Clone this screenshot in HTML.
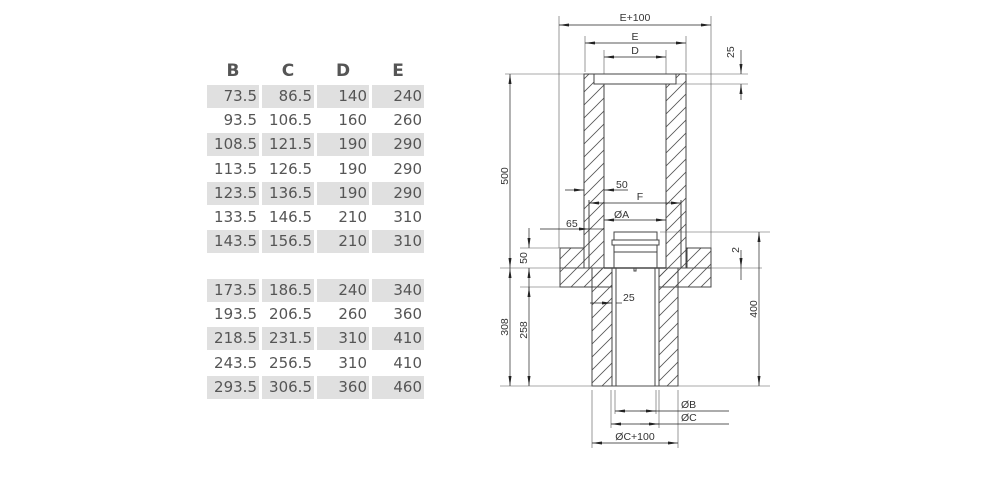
<!DOCTYPE html>
<html><head><meta charset="utf-8"><style>
body{margin:0;background:#fff;width:1000px;height:500px;overflow:hidden;position:relative;font-family:"DejaVu Sans","Liberation Sans",sans-serif}
.h{position:absolute;top:61px;font-weight:bold;font-size:17px;color:#555;width:52px;text-align:center}
.c{position:absolute;height:23px;width:52px;text-align:right;font-size:15px;color:#555;line-height:23px;box-sizing:border-box;padding-right:2px}
.s{background:#e0e0e0}
svg{position:absolute;left:0;top:0}
</style></head><body>
<div id="tbl"></div>
<script>
var rows=[[97,1,"73.5","86.5","140","240"],[121,0,"93.5","106.5","160","260"],[145,1,"108.5","121.5","190","290"],[170,0,"113.5","126.5","190","290"],[194,1,"123.5","136.5","190","290"],[218,0,"133.5","146.5","210","310"],[242,1,"143.5","156.5","210","310"],[291,1,"173.5","186.5","240","340"],[315,0,"193.5","206.5","260","360"],[339,1,"218.5","231.5","310","410"],[364,0,"243.5","256.5","310","410"],[388,1,"293.5","306.5","360","460"]];
var xs=[207,262,317,372],h="";
["B","C","D","E"].forEach(function(l,i){h+='<div class="h" style="left:'+xs[i]+'px">'+l+'</div>';});
rows.forEach(function(r){for(var i=0;i<4;i++)h+='<div class="c'+(r[1]?' s':'')+'" style="left:'+xs[i]+'px;top:'+(r[0]-12)+'px">'+r[i+2]+'</div>';});
document.getElementById('tbl').innerHTML=h;
</script>
<svg width="1000" height="500" viewBox="0 0 1000 500" font-family="Liberation Sans,sans-serif" font-size="10.5" fill="#333">
<defs>
<pattern id="hx" width="13" height="13" patternUnits="userSpaceOnUse"><path d="M-1,14L14,-1M-1,1L1,-1M12,14L14,12" stroke="#555" stroke-width="0.8"/></pattern>
<marker id="a" markerWidth="10" markerHeight="6" refX="10" refY="3" orient="auto-start-reverse" markerUnits="userSpaceOnUse"><path d="M0,1.5L10,3L0,4.5z" fill="#222"/></marker>
</defs>
<g stroke="#444" stroke-width="1" fill="none">
<rect x="584" y="74" width="20" height="194" fill="url(#hx)"/>
<rect x="666" y="74" width="20" height="194" fill="url(#hx)"/>
<rect x="594" y="74" width="82" height="10" fill="#fff"/>
<rect x="560" y="248" width="24" height="20" fill="url(#hx)"/>
<rect x="687" y="248" width="24" height="20" fill="url(#hx)"/>
<rect x="560" y="268" width="151" height="19" fill="url(#hx)"/>
<line x1="589" y1="200" x2="589" y2="268"/><line x1="681" y1="200" x2="681" y2="268"/>
<rect x="592" y="268" width="86" height="118" fill="url(#hx)"/>
<rect x="612" y="268" width="47" height="118" fill="#fff"/>
<line x1="616" y1="268" x2="616" y2="386"/><line x1="655" y1="268" x2="655" y2="386"/>
<rect x="614" y="232" width="43" height="8" fill="#fff"/>
<rect x="612" y="240" width="47" height="5" fill="#fff"/>
<rect x="614" y="245" width="43" height="23" fill="#fff"/>
<line x1="614" y1="252" x2="657" y2="252"/>
<line x1="604" y1="268" x2="666" y2="268" stroke-width="1.6"/>
<rect x="634" y="268" width="2" height="3"/>
</g>
<g stroke="#555" stroke-width="0.6" fill="none">
<line x1="559" y1="16" x2="559" y2="248"/><line x1="711" y1="16" x2="711" y2="248"/>
<line x1="585" y1="36" x2="585" y2="72"/><line x1="686" y1="36" x2="686" y2="72"/>
<line x1="604" y1="50" x2="604" y2="74"/><line x1="666" y1="50" x2="666" y2="74"/>
<line x1="505" y1="74" x2="584" y2="74"/><line x1="686" y1="74" x2="748" y2="74"/>
<line x1="676" y1="84" x2="748" y2="84"/>
<line x1="500" y1="268" x2="762" y2="268"/>
<line x1="500" y1="386" x2="770" y2="386"/>
<line x1="520" y1="248" x2="559" y2="248"/>
<line x1="520" y1="287" x2="560" y2="287"/>
<line x1="660" y1="232" x2="770" y2="232"/>
<line x1="592" y1="390" x2="592" y2="448"/><line x1="678" y1="390" x2="678" y2="448"/>
<line x1="611" y1="390" x2="611" y2="428"/><line x1="659" y1="390" x2="659" y2="428"/>
<line x1="615" y1="390" x2="615" y2="414"/><line x1="656" y1="390" x2="656" y2="414"/>
</g>
<g stroke="#222" stroke-width="0.7" fill="none">
<line x1="559" y1="25" x2="711" y2="25" marker-start="url(#a)" marker-end="url(#a)"/>
<line x1="585" y1="43" x2="686" y2="43" marker-start="url(#a)" marker-end="url(#a)"/>
<line x1="604" y1="57" x2="666" y2="57" marker-start="url(#a)" marker-end="url(#a)"/>
<line x1="741" y1="50" x2="741" y2="74" marker-end="url(#a)"/><line x1="741" y1="100" x2="741" y2="84" marker-end="url(#a)"/>
<line x1="510" y1="74" x2="510" y2="268" marker-start="url(#a)" marker-end="url(#a)"/>
<line x1="510" y1="268" x2="510" y2="386" marker-start="url(#a)" marker-end="url(#a)"/>
<line x1="529" y1="287" x2="529" y2="386" marker-start="url(#a)" marker-end="url(#a)"/>
<line x1="529" y1="228" x2="529" y2="248" marker-end="url(#a)"/><line x1="529" y1="290" x2="529" y2="268" marker-end="url(#a)"/>
<line x1="759" y1="232" x2="759" y2="386" marker-start="url(#a)" marker-end="url(#a)"/>
<line x1="741" y1="250" x2="741" y2="268" marker-end="url(#a)"/><line x1="741" y1="280" x2="741" y2="268"/>
<line x1="565" y1="190" x2="584" y2="190" marker-end="url(#a)"/><line x1="628" y1="190" x2="604" y2="190" marker-end="url(#a)"/>
<line x1="589" y1="203" x2="681" y2="203" marker-start="url(#a)" marker-end="url(#a)"/>
<line x1="604" y1="220" x2="666" y2="220" marker-start="url(#a)" marker-end="url(#a)"/>
<line x1="540" y1="229" x2="589" y2="229" marker-end="url(#a)"/><line x1="604" y1="229" x2="589" y2="229"/>
<line x1="590" y1="303" x2="612" y2="303" marker-end="url(#a)"/><line x1="622" y1="303" x2="616" y2="303"/>
<line x1="615" y1="411" x2="729" y2="411" marker-start="url(#a)"/><line x1="640" y1="411" x2="656" y2="411" marker-end="url(#a)"/>
<line x1="611" y1="424" x2="729" y2="424" marker-start="url(#a)"/><line x1="640" y1="424" x2="659" y2="424" marker-end="url(#a)"/>
<line x1="592" y1="443" x2="678" y2="443" marker-start="url(#a)" marker-end="url(#a)"/>
</g>
<text x="635" y="21" text-anchor="middle">E+100</text>
<text x="635" y="40" text-anchor="middle">E</text>
<text x="635" y="54" text-anchor="middle">D</text>
<text transform="translate(734,58) rotate(-90)">25</text>
<text transform="translate(508,176) rotate(-90)" text-anchor="middle">500</text>
<text transform="translate(508,327) rotate(-90)" text-anchor="middle">308</text>
<text transform="translate(527,330) rotate(-90)" text-anchor="middle">258</text>
<text transform="translate(527,258) rotate(-90)" text-anchor="middle">50</text>
<text transform="translate(757,309) rotate(-90)" text-anchor="middle">400</text>
<text transform="translate(739,250) rotate(-90)" text-anchor="middle">2</text>
<text x="616" y="188">50</text>
<text x="640" y="200" text-anchor="middle">F</text>
<text x="614" y="218">ØA</text>
<text x="566" y="227">65</text>
<text x="623" y="301">25</text>
<text x="681" y="408">ØB</text>
<text x="681" y="421">ØC</text>
<text x="635" y="440" text-anchor="middle">ØC+100</text>
</svg>
</body></html>
